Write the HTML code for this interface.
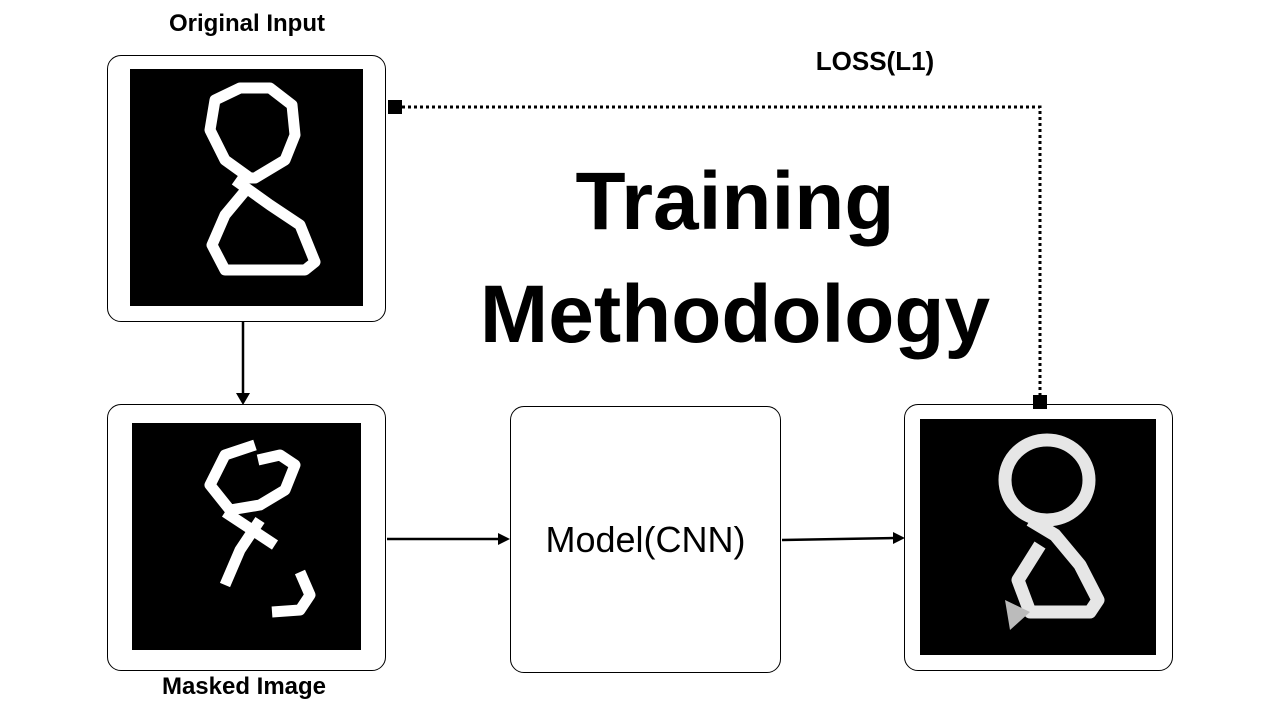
<!DOCTYPE html>
<html><head><style>
body{margin:0;width:1280px;height:710px;background:#fff;position:relative;overflow:hidden;font-family:"Liberation Sans",sans-serif}
.box{position:absolute;border:1.5px solid #000;border-radius:14px;background:#fff;box-sizing:border-box}
.img{position:absolute;background:#000}
.lbl{position:absolute;font-weight:bold;font-size:24px;text-align:center}
.t{position:absolute;font-weight:bold;font-size:82px;text-align:center;width:600px;left:435px}
</style></head><body>
<div class="lbl" style="left:137px;top:10px;width:220px">Original Input</div>
<div class="lbl" style="left:134px;top:673px;width:220px">Masked Image</div>
<div class="lbl" style="left:765px;top:46px;width:220px;font-size:26px">LOSS(L1)</div>
<div class="t" style="top:155px">Training</div>
<div class="t" style="top:268px">Methodology</div>

<div class="box" style="left:107px;top:55px;width:279px;height:267px"></div>
<div class="img" style="left:130px;top:69px;width:233px;height:237px"></div>
<div class="box" style="left:107px;top:404px;width:279px;height:267px"></div>
<div class="img" style="left:132px;top:423px;width:229px;height:227px"></div>
<div class="box" style="left:510px;top:406px;width:271px;height:267px"></div>
<div style="position:absolute;left:510px;top:519px;width:271px;text-align:center;font-size:36px">Model(CNN)</div>
<div class="box" style="left:904px;top:404px;width:269px;height:267px"></div>
<div class="img" style="left:920px;top:419px;width:236px;height:236px"></div>

<svg width="1280" height="710" style="position:absolute;left:0;top:0">
<g fill="none" stroke="#fff" stroke-width="11" stroke-linejoin="round">
<path d="M250 178 L225 160 L210 130 L215 100 L240 88 L270 88 L292 105 L295 135 L285 160 L255 178 Z"/>
<path d="M235 180 L270 205 L300 225 L315 262 L305 270 L225 270 L212 245 L225 215 L250 185"/>
</g>
<g fill="none" stroke="#fff" stroke-width="11" stroke-linejoin="round">
<path d="M255 445 L225 455 L210 485 L230 510 L260 505 L285 490 L295 465 L280 455 L258 460"/>
<path d="M225 512 L275 545"/><path d="M260 520 L240 550 L225 585"/>
<path d="M300 572 L310 595 L300 610 L272 612"/>
</g>
<g fill="none" stroke="#e6e6e6" stroke-width="13" stroke-linejoin="round">
<ellipse cx="1047" cy="480" rx="42" ry="40"/>
<path d="M1030 520 L1055 535 L1080 565 L1098 600 L1090 612 L1030 612 L1018 580 L1040 545"/>
</g>
<path d="M1005 600 L1030 612 L1010 630 Z" fill="#bbb"/>
<g stroke="#000" stroke-width="2.5">
<line x1="243" y1="322" x2="243" y2="395"/>
<line x1="387" y1="539" x2="500" y2="539"/>
<line x1="782" y1="540" x2="895" y2="538"/>
</g>
<g fill="#000">
<polygon points="236,393 250,393 243,405"/>
<polygon points="498,533 498,545 510,539"/>
<polygon points="893,532 893,544 905,538"/>
<rect x="388" y="100" width="14" height="14"/>
<rect x="1033" y="395" width="14" height="14"/>
</g>
<path d="M402 107 H1040 V395" fill="none" stroke="#000" stroke-width="3" stroke-dasharray="3 3"/>
</svg>
</body></html>
